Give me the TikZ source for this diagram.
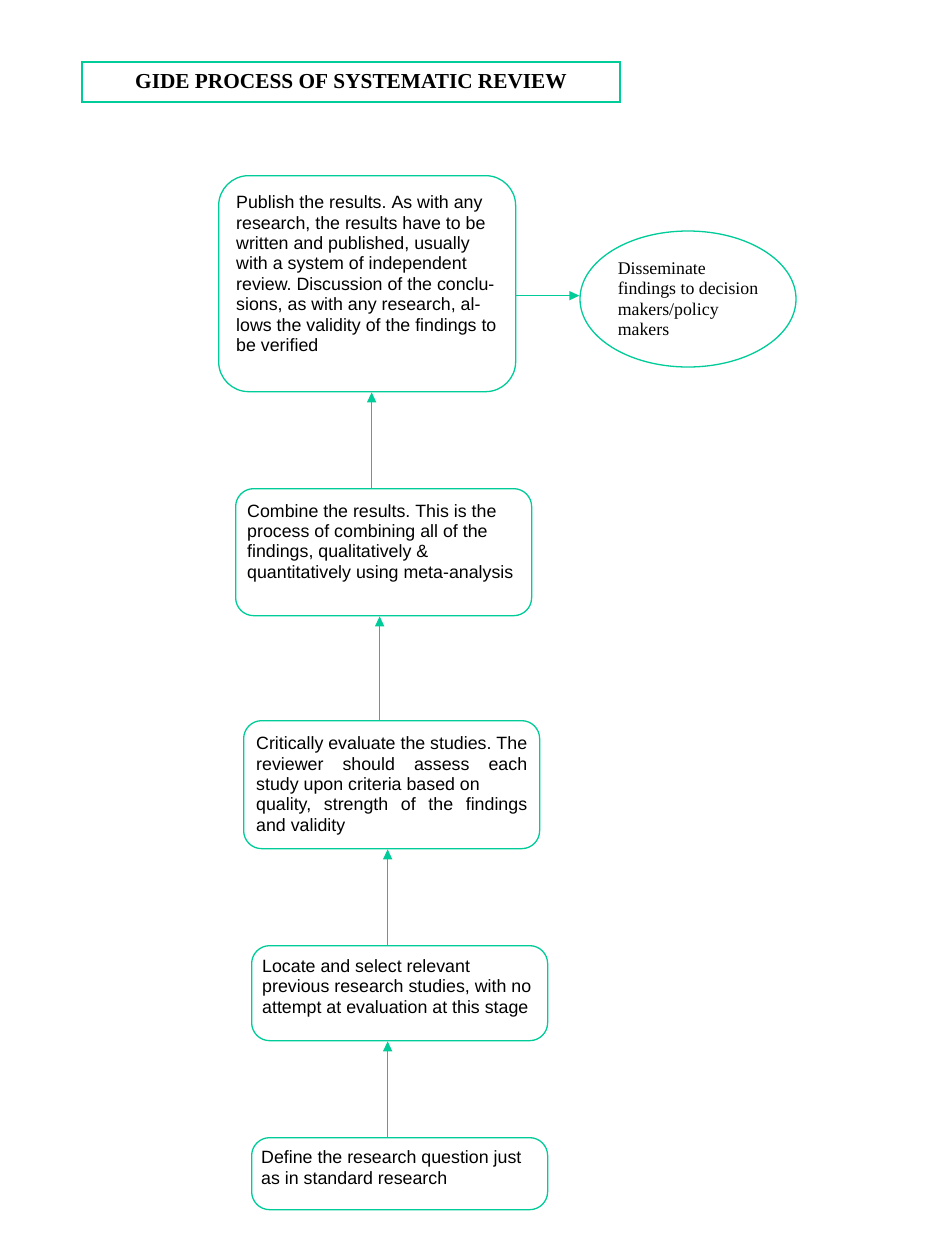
\documentclass[tikz,border=0pt]{standalone}
\usepackage{fontspec}
\setmainfont{Liberation Serif}
\setsansfont{Liberation Sans}
\usepackage{tikz}
\usetikzlibrary{arrows.meta,shapes.geometric}
\definecolor{gidegreen}{RGB}{0,204,153}
\newcommand{\boxfont}{\sffamily\frenchspacing\fontsize{17.8}{20.4}\selectfont}
\newcommand{\ovalfont}{\rmfamily\frenchspacing\fontsize{17.8}{20.4}\selectfont}

\begin{document}
\begin{tikzpicture}[x=1pt,y=-1pt,
	stepbox/.style={draw=gidegreen,line width=1.3pt,rounded corners=18pt,anchor=north west,inner sep=0pt},
	steptext/.style={anchor=north west,inner sep=0pt,align=left,font=\boxfont},
	flow/.style={draw=gidegreen,line width=1.3pt,-{Triangle[length=10pt,width=9pt]}}]
	\useasboundingbox[fill=white] (0,0) rectangle (925,1251);
	%                              \draw (0,0) rectangle (925,1251);
	\node[draw=gidegreen,line width=1.3pt,minimum width=538pt,minimum height=40pt,inner sep=0pt,
	font=\rmfamily\bfseries\fontsize{21.3}{24}\selectfont] (title) at (351,82)
	{GIDE PROCESS OF SYSTEMATIC REVIEW}; %%% heading
	\node[stepbox,rounded corners=30pt,minimum width=297pt,minimum height=216pt] (b1) at (218,175) {};
	\node[stepbox,minimum width=296pt,minimum height=127pt] (b2) at (235,488) {};
	\node[stepbox,minimum width=296pt,minimum height=128pt] (b3) at (243,720) {};
	\node[stepbox,minimum width=296pt,minimum height=95pt] (b4) at (251,945) {};
	\node[stepbox,minimum width=296pt,minimum height=72pt] (b5) at (251,1137) {};
	\node[ellipse,draw=gidegreen,line width=1.3pt,minimum width=216pt,minimum height=136pt,
	inner sep=0pt,align=left,font=\ovalfont] (dis) at (688,299)
	{Disseminate\\findings to decision\\makers/policy\\makers}; %%% oval
	\node[steptext] (t1) at (236,195.5) {Publish the results. As with any\\
		research, the results have to be\\
		written and published, usually\\
		with a system of independent\\
		review. Discussion of the conclu-\\
		sions, as with any research, al-\\
		lows the validity of the findings to\\
		be verified};
	\node[steptext] (t2) at (247,504) {Combine the results. This is the\\
		process of combining all of the\\
		findings, qualitatively \&\\
		quantitatively using meta-analysis};
	\node[steptext] (t3) at (256,736.5) {\makebox[271pt][s]{Critically evaluate the studies. The}\\
		\makebox[271pt][s]{reviewer should assess each}\\
		study upon criteria based on\\
		\makebox[271pt][s]{quality, strength of the findings}\\
		and validity};
	\node[steptext] (t4) at (262,959.3) {Locate and select relevant\\
		previous research studies, with no\\
		attempt at evaluation at this stage};
	\node[steptext] (t5) at (261,1150.7) {Define the research question just\\
		as in standard research};
	
	\foreach \lo/\hi in {b5/b4,b4/b3,b3/b2,b2/b1}
	\draw[flow] ([xshift=-12pt]\lo.north) -- ([xshift=-12pt]\lo.north |- \hi.south);
	\draw[flow] ([yshift=-12pt]b1.east) -- ([yshift=-12pt]b1.east -| dis.west);
\end{tikzpicture}
\end{document}
